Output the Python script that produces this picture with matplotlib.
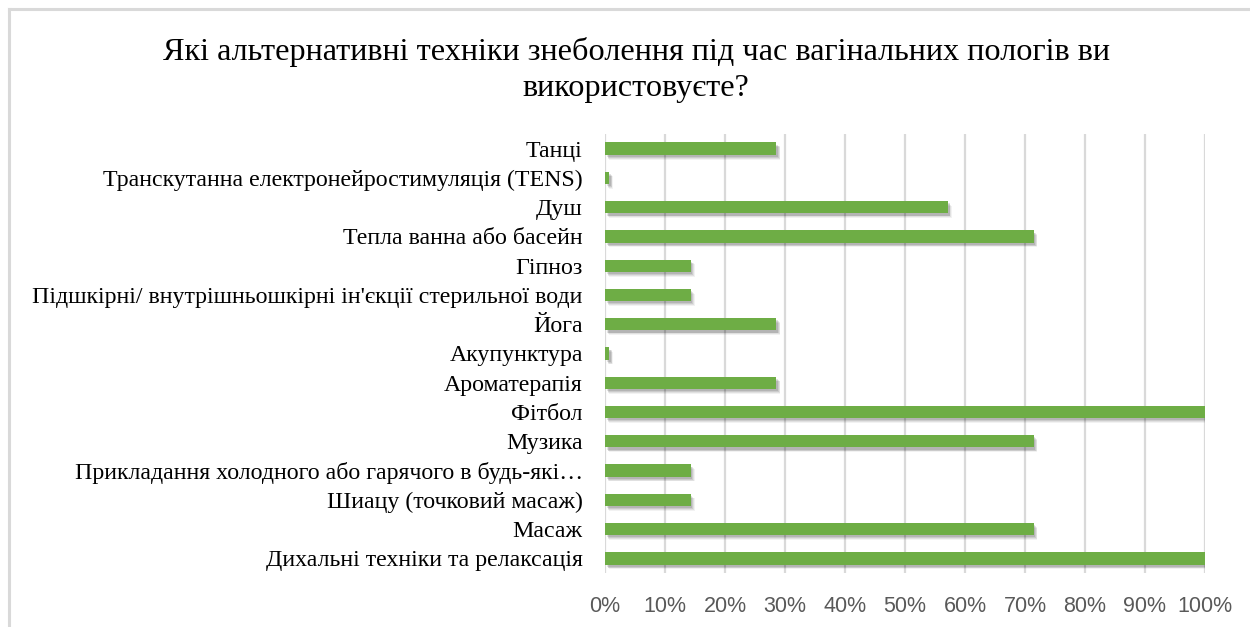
import matplotlib
matplotlib.use("Agg")
import matplotlib.pyplot as plt
import matplotlib.patheffects as pe
from matplotlib.lines import Line2D
from matplotlib.ticker import FuncFormatter

title = "Які альтернативні техніки знеболення під час вагінальних пологів ви\nвикористовуєте?"

categories = [
    "Танці",
    "Транскутанна електронейростимуляція (TENS)",
    "Душ",
    "Тепла ванна або басейн",
    "Гіпноз",
    "Підшкірні/ внутрішньошкірні ін'єкції стерильної води",
    "Йога",
    "Акупунктура",
    "Ароматерапія",
    "Фітбол",
    "Музика",
    "Прикладання холодного або гарячого в будь-які…",
    "Шиацу (точковий масаж)",
    "Масаж",
    "Дихальні техніки та релаксація",
]
values = [28.57, 0.7, 57.14, 71.43, 14.29, 14.29, 28.57, 0.7, 28.57,
          100.0, 71.43, 14.29, 14.29, 71.43, 100.0]
xticks = [0, 10, 20, 30, 40, 50, 60, 70, 80, 90, 100]

W, H = 1250, 627
fig = plt.figure(figsize=(W / 100, H / 100), dpi=100)
fig.patch.set_facecolor("white")

# outer chart frame (top and left edges visible)
frame_col = "#D9D9D9"
fig.add_artist(Line2D([9 / W, 9 / W], [0, 1 - 9 / H], transform=fig.transFigure,
                      color=frame_col, lw=2.2))
fig.add_artist(Line2D([9 / W, 1], [1 - 9 / H, 1 - 9 / H], transform=fig.transFigure,
                      color=frame_col, lw=2.2))

left, right = 605 / W, 1205 / W
top, bottom = 1 - 134 / H, 1 - 573 / H
ax = fig.add_axes([left, bottom, right - left, top - bottom])

ypos = list(range(len(categories)))
shadow = [
    pe.SimplePatchShadow(offset=(2.8, -3.4), shadow_rgbFace="#000000", alpha=0.05),
    pe.SimplePatchShadow(offset=(2.3, -2.8), shadow_rgbFace="#000000", alpha=0.07),
    pe.SimplePatchShadow(offset=(1.8, -2.2), shadow_rgbFace="#000000", alpha=0.09),
    pe.SimplePatchShadow(offset=(1.2, -1.6), shadow_rgbFace="#000000", alpha=0.11),
    pe.Normal(),
]
bars = ax.barh(ypos, values, height=0.42, color="#6EAD45", zorder=3)
for b in bars:
    b.set_path_effects(shadow)

ax.set_xlim(0, 100)
ax.set_ylim(len(categories) - 0.5, -0.5)
ax.set_xticks(xticks)
ax.xaxis.set_major_formatter(FuncFormatter(lambda v, p: f"{int(v)}%"))
ax.set_yticks(ypos)
ax.set_yticklabels(categories, family=["Liberation Serif", "DejaVu Serif"],
                   fontsize=17.2, color="black")
for lab in ax.get_xticklabels():
    lab.set_family(["Liberation Sans Narrow", "Liberation Sans", "DejaVu Sans"])
    lab.set_fontsize(15.5)
    lab.set_color("#595959")

ax.tick_params(axis="y", length=0, pad=16)
ax.tick_params(axis="x", length=0, pad=16.5)
ax.grid(axis="x", color="#D9D9D9", lw=1.6, zorder=0)
ax.set_axisbelow(True)
for s in ax.spines.values():
    s.set_visible(False)

fig.text(0.509, 1 - 70 / H, title, ha="center", va="center",
         family=["Liberation Serif", "DejaVu Serif"], fontsize=23.2,
         linespacing=1.3, color="black")

fig.savefig("out.png", dpi=100, facecolor="white")
